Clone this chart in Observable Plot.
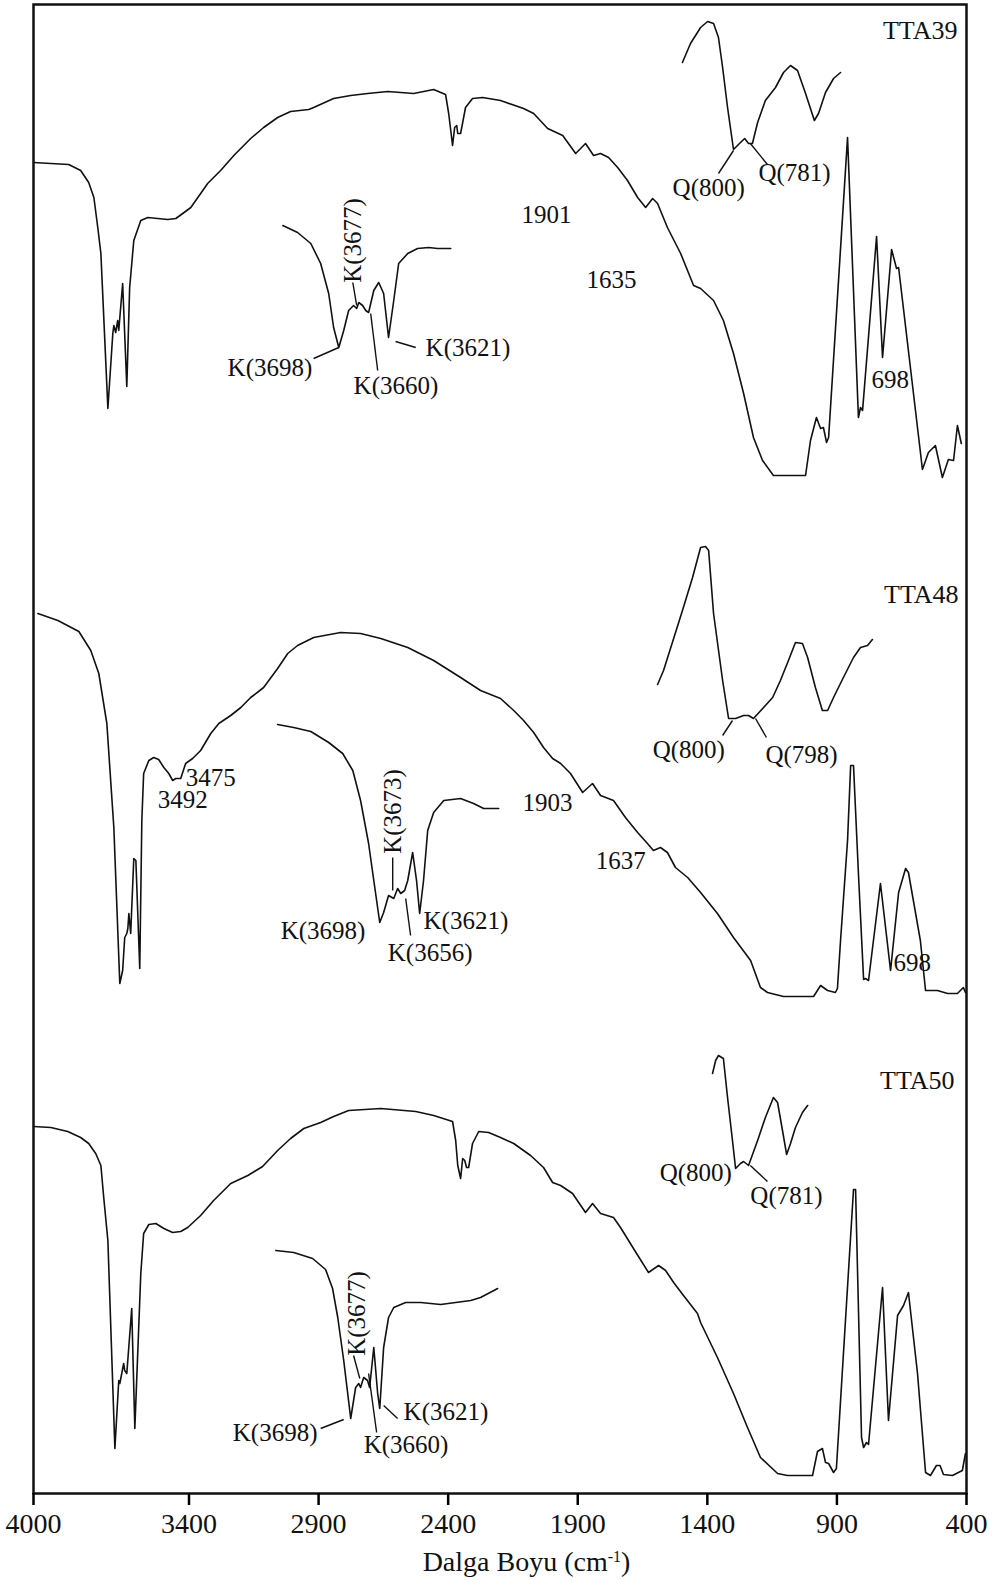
<!DOCTYPE html>
<html><head><meta charset="utf-8">
<script src="https://cdn.jsdelivr.net/npm/d3@7"></script>
<script src="https://cdn.jsdelivr.net/npm/@observablehq/plot@0.6"></script>
<style>
body{margin:0;background:#fff;position:relative;width:1001px;height:1580px;overflow:hidden;}
#xlabel{position:absolute;left:0;top:1547px;width:1001px;box-sizing:border-box;padding-left:52px;font-family:"Liberation Serif","Times New Roman",serif;font-size:28px;line-height:30px;color:#111;text-align:center;white-space:nowrap;}
#xlabel sup{font-size:16px;line-height:0;vertical-align:9px;}
</style>
</head><body>
<div id="chart"></div>
<div id="xlabel">Dalga Boyu (cm<sup>-1</sup>)</div>
<script>
// x: wavenumber (cm-1), y: transmittance in arbitrary stacked units
const xTicks = [4000, 3400, 2900, 2400, 1900, 1400, 900, 400];

const tta39 = [[4000,133.1],[3933,133.0],[3864,132.9],[3818,132.3],[3787,131.1],[3767,129.6],[3752,126.6],[3740,124.0],[3713,108.5],[3694,116.0],[3690,116.8],[3683,116.1],[3675,117.3],[3671,116.3],[3656,121.0],[3640,110.7],[3629,120.6],[3613,125.3],[3586,127.3],[3559,127.6],[3521,127.5],[3482,127.4],[3451,127.5],[3424,128.0],[3393,128.6],[3355,130.0],[3328,131.0],[3278,132.3],[3227,133.8],[3162,135.5],[3112,136.6],[3058,137.6],[3008,138.2],[2938,138.4],[2919,138.6],[2842,139.5],[2776,139.8],[2711,140.0],[2633,140.2],[2533,140.0],[2456,140.4],[2410,139.9],[2398,138.0],[2383,134.8],[2375,136.6],[2367,136.8],[2363,136.0],[2352,136.0],[2333,138.6],[2306,139.5],[2267,139.6],[2198,139.3],[2109,138.5],[2070,138.0],[2016,136.5],[1958,135.8],[1908,134.0],[1870,135.0],[1839,133.8],[1812,134.0],[1781,133.6],[1746,132.6],[1708,131.3],[1669,129.6],[1638,128.6],[1611,129.5],[1592,129.0],[1554,126.6],[1503,124.0],[1453,120.8],[1426,120.5],[1376,119.3],[1338,117.3],[1299,114.0],[1260,110.0],[1222,105.6],[1187,103.3],[1145,101.8],[1021,101.8],[1002,105.3],[979,107.6],[963,106.5],[952,106.6],[940,105.1],[932,105.6],[859,135.6],[817,107.6],[809,108.6],[801,108.3],[747,125.7],[724,113.6],[689,124.4],[670,122.5],[662,122.6],[570,102.4],[547,104.1],[520,104.8],[493,101.6],[470,103.4],[450,103.3],[435,106.8],[420,105.0]];
const tta39K = [[3038,126.8],[2981,126.1],[2930,125.0],[2892,123.0],[2861,120.0],[2842,116.6],[2822,114.6],[2803,116.3],[2784,118.3],[2765,118.8],[2753,118.5],[2745,119.1],[2730,118.8],[2718,118.3],[2707,118.1],[2687,120.3],[2668,121.1],[2649,120.0],[2630,115.6],[2610,119.3],[2591,123.0],[2556,124.0],[2518,124.5],[2475,124.6],[2441,124.5],[2390,124.5]];
const tta39Q = [[1496,143.1],[1465,145.0],[1426,146.6],[1399,147.2],[1376,147.0],[1357,145.6],[1341,142.6],[1322,138.6],[1299,134.4],[1272,135.1],[1256,135.5],[1241,135.0],[1226,135.0],[1206,137.1],[1176,139.3],[1137,140.6],[1106,142.1],[1079,142.8],[1052,142.3],[1021,140.0],[987,137.3],[971,138.0],[944,140.1],[913,141.5],[886,142.1]];

const tta48 = [[3983,88.0],[3906,87.3],[3825,86.2],[3779,84.3],[3748,82.0],[3717,77.0],[3690,66.6],[3667,51.0],[3656,52.3],[3648,55.6],[3640,56.0],[3636,56.5],[3632,58.0],[3625,56.0],[3613,63.5],[3605,63.3],[3590,52.5],[3582,67.3],[3575,72.0],[3555,73.3],[3536,73.6],[3517,73.4],[3497,72.6],[3478,72.0],[3463,71.3],[3451,71.5],[3432,71.5],[3413,73.0],[3386,73.5],[3355,74.3],[3316,76.0],[3285,77.0],[3239,77.8],[3200,78.6],[3162,79.6],[3112,80.6],[3058,82.5],[3019,84.0],[2981,84.8],[2919,85.6],[2815,86.1],[2738,86.0],[2660,85.5],[2556,84.6],[2456,83.3],[2352,81.6],[2275,80.3],[2198,79.5],[2147,78.3],[2109,77.3],[2070,76.1],[2032,74.6],[1997,73.5],[1966,73.0],[1928,72.0],[1881,70.1],[1843,71.0],[1812,69.8],[1762,69.3],[1716,67.6],[1669,66.1],[1631,65.0],[1608,64.3],[1581,64.6],[1554,64.1],[1523,62.6],[1476,61.6],[1426,60.1],[1361,58.0],[1299,55.6],[1233,53.3],[1195,50.6],[1168,50.1],[1106,49.7],[990,49.7],[963,50.8],[936,50.3],[906,50.1],[898,50.5],[886,55.3],[859,65.3],[847,72.8],[836,72.8],[817,62.0],[797,51.4],[790,51.5],[778,51.3],[732,61.0],[693,52.3],[662,60.1],[635,62.5],[624,62.1],[578,55.3],[558,50.3],[512,50.3],[473,50.0],[435,50.0],[412,50.6],[404,50.1]];
const tta48K = [[3058,76.9],[2996,76.6],[2930,76.2],[2861,75.1],[2807,74.0],[2768,72.3],[2738,69.3],[2707,65.0],[2687,61.3],[2664,57.1],[2649,58.1],[2630,59.8],[2610,59.5],[2595,60.5],[2583,60.0],[2568,60.3],[2556,61.3],[2537,64.1],[2522,61.3],[2510,58.0],[2495,61.3],[2479,66.3],[2456,68.1],[2417,69.3],[2352,69.5],[2302,69.0],[2263,68.5],[2205,68.5]];
const tta48Q = [[1592,80.9],[1569,82.3],[1530,85.5],[1496,88.3],[1457,91.6],[1426,94.6],[1407,94.7],[1395,94.3],[1376,88.0],[1341,81.3],[1318,77.5],[1291,77.5],[1260,77.8],[1241,77.8],[1222,77.5],[1183,78.6],[1148,79.6],[1118,81.3],[1087,83.3],[1060,85.1],[1033,85.0],[1013,83.6],[983,80.6],[956,78.3],[936,78.3],[913,79.6],[875,81.6],[836,83.6],[809,84.6],[782,84.8],[763,85.4]];

const tta50 = [[4000,36.7],[3933,36.6],[3868,36.2],[3818,35.6],[3787,35.0],[3760,34.0],[3740,32.8],[3729,29.6],[3713,25.3],[3686,4.5],[3671,11.3],[3667,11.0],[3652,13.0],[3648,12.3],[3640,12.0],[3621,18.5],[3609,6.5],[3586,22.0],[3575,26.0],[3555,26.9],[3528,27.0],[3497,26.5],[3463,26.1],[3432,26.2],[3405,26.6],[3355,27.8],[3305,29.3],[3239,31.0],[3173,31.8],[3116,32.7],[3058,34.3],[3008,35.5],[2957,36.5],[2892,37.1],[2842,37.7],[2784,38.3],[2660,38.5],[2525,38.2],[2456,37.8],[2383,37.2],[2371,35.3],[2363,32.8],[2352,31.5],[2344,33.5],[2336,33.3],[2329,32.6],[2321,32.6],[2306,35.0],[2282,36.2],[2244,36.1],[2198,35.6],[2147,35.0],[2082,33.8],[2032,32.6],[1997,31.1],[1966,30.8],[1920,30.0],[1870,28.1],[1843,29.0],[1812,28.0],[1762,27.6],[1735,26.6],[1685,24.5],[1627,22.1],[1588,22.8],[1561,22.3],[1530,21.1],[1492,19.8],[1438,18.0],[1426,17.1],[1361,13.6],[1299,10.0],[1245,6.6],[1195,3.6],[1129,2.0],[1091,1.8],[994,1.8],[975,4.2],[956,4.5],[944,3.1],[932,3.0],[913,2.1],[902,2.5],[836,30.4],[828,30.4],[805,5.6],[797,4.6],[786,5.1],[778,4.9],[724,20.6],[701,7.3],[666,17.8],[643,18.8],[624,20.1],[589,12.0],[558,2.1],[539,1.8],[516,2.8],[502,2.8],[489,1.9],[454,1.8],[439,2.0],[416,2.3],[404,4.0]];
const tta50K = [[3065,24.3],[2996,24.1],[2923,23.5],[2873,22.4],[2846,20.5],[2826,17.6],[2803,13.3],[2776,7.5],[2757,10.6],[2745,11.0],[2738,10.6],[2726,11.6],[2711,11.3],[2703,10.6],[2687,14.6],[2672,10.0],[2664,8.5],[2649,14.6],[2630,17.6],[2610,18.6],[2564,19.1],[2506,19.1],[2429,18.9],[2313,19.3],[2275,19.6],[2209,20.5]];
const tta50Q = [[1380,42.0],[1368,43.3],[1357,43.8],[1338,43.5],[1322,39.6],[1303,35.3],[1291,32.5],[1272,33.0],[1260,33.2],[1241,32.8],[1206,35.3],[1176,37.6],[1145,39.6],[1129,39.1],[1110,36.3],[1094,33.9],[1079,35.0],[1060,36.6],[1033,38.1],[1013,38.8]];

// sample names
const sampleText = ["TTA39", "TTA48", "TTA50"];
const sampleWn = [435, 431, 446];
const sampleT = [146.3, 89.9, 41.3];

// peak labels
const labelText = ["Q(800)","Q(781)","1901","1635","698","K(3698)","K(3660)","K(3621)",
                   "Q(800)","Q(798)","3475","3492","1903","1637","698","K(3698)","K(3656)","K(3621)",
                   "Q(800)","Q(781)","K(3698)","K(3660)","K(3621)"];
const labelWn = [1534,1203,2117,1866,767,3251,2765,2487,
                 1611,1176,3413,3521,2113,1831,682,3046,2633,2495,
                 1584,1234,3231,2726,2572];
const labelT = [130.6,132.1,127.9,121.4,111.4,112.6,110.8,114.6,
                74.4,73.9,71.6,69.4,69.1,63.3,53.1,56.3,54.1,57.3,
                32.1,29.8,6.1,4.9,8.2];

// vertical labels
const rotText = ["K(3677)", "K(3673)", "K(3677)"];
const rotWn = [2768, 2614, 2753];
const rotT = [125.3, 68.2, 18.0];

// leader lines: [wn1, t1, wn2, t2]
const leaders = [[2822,114.6,2919,113.5],[2768,121.1,2753,118.8],[2699,118.0,2672,112.3],[2603,115.2,2525,114.6],[1357,132.0,1299,134.3],[1234,135.0,1168,132.9],
  [2614,63.6,2614,60.3],[2564,59.5,2545,55.8],[1341,75.8,1303,77.3],[1214,77.5,1172,75.6],
  [2892,6.5,2803,7.4],[2765,13.8,2741,11.5],[2707,12.0,2676,6.1],[2649,8.8,2595,7.5],[1234,32.8,1168,31.2]];

const curves = [tta39, tta39K, tta39Q, tta48, tta48K, tta48Q, tta50, tta50K, tta50Q];
const FONT = '"Liberation Serif","Times New Roman",serif';

const chart = Plot.plot({
  width: 1001,
  height: 1541,
  marginLeft: 33,
  marginRight: 35,
  marginTop: 4,
  marginBottom: 48,
  x: {domain: [4000, 400], axis: null},
  y: {domain: [0, 148.9], axis: null},
  style: {fontFamily: FONT, fontSize: "28px", background: "#fff", color: "#000"},
  marks: [
    ...curves.map(c => Plot.line(c, {x: d => d[0], y: d => d[1], stroke: "#111", strokeWidth: 1.6, curve: "linear"})),
    Plot.link(leaders, {x1: d => d[0], y1: d => d[1], x2: d => d[2], y2: d => d[3], stroke: "#111", strokeWidth: 1.4}),
    Plot.text(labelText, {x: (d, i) => labelWn[i], y: (d, i) => labelT[i], text: d => d, textAnchor: "start", lineAnchor: "middle", fontSize: 25, fill: "#111"}),
    Plot.text(rotText, {x: (d, i) => rotWn[i], y: (d, i) => rotT[i], text: d => d, rotate: -90, textAnchor: "middle", lineAnchor: "middle", fontSize: 25, fill: "#111"}),
    Plot.text(sampleText, {x: (d, i) => sampleWn[i], y: (d, i) => sampleT[i], text: d => d, textAnchor: "end", lineAnchor: "middle", fontSize: 26, fill: "#111"}),
    Plot.frame({stroke: "#111", strokeWidth: 2.5}),
    Plot.axisX({ticks: xTicks, tickFormat: d => String(d), tickSize: 12, tickPadding: 8, strokeWidth: 2.5, label: null, fill: "#111"})
  ]
});
document.getElementById("chart").appendChild(chart);
</script>
</body></html>
